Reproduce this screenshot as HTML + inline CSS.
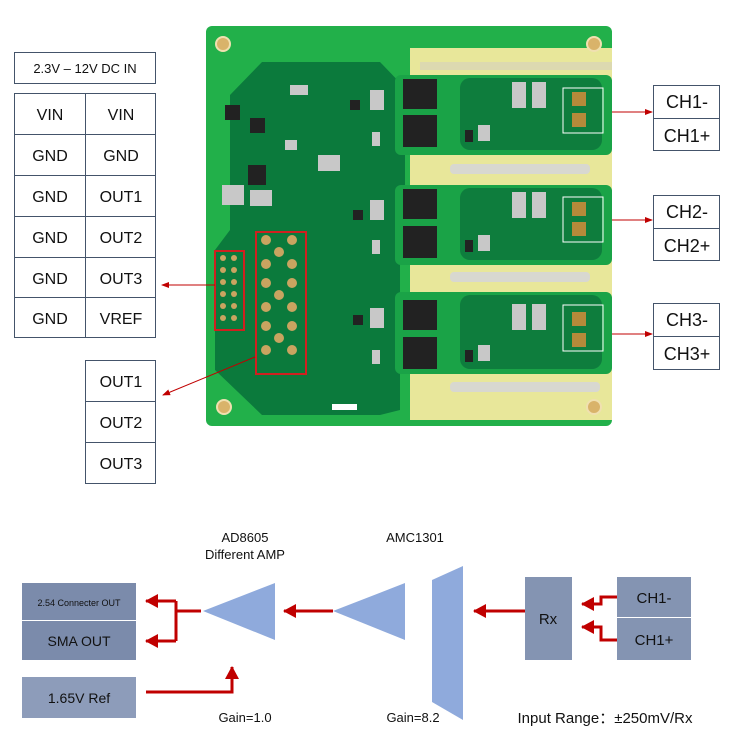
<!DOCTYPE html>
<html><head><meta charset="utf-8"><style>
body{margin:0;background:#fff;width:732px;height:738px;overflow:hidden;font-family:"Liberation Sans",sans-serif}
</style></head><body>
<svg width="732" height="738" viewBox="0 0 732 738" xmlns="http://www.w3.org/2000/svg" font-family="Liberation Sans, sans-serif">
<defs>
<marker id="a" markerWidth="8" markerHeight="8" refX="7" refY="4" orient="auto" markerUnits="userSpaceOnUse"><path d="M0,1 L8,4 L0,7 z" fill="#c00000"/></marker>
<marker id="b" markerWidth="14" markerHeight="14" refX="12" refY="7" orient="auto" markerUnits="userSpaceOnUse"><path d="M0,0 L13,7 L0,14 z" fill="#c00000"/></marker>
</defs>
<!-- PCB -->
<rect x="206" y="26" width="406" height="400" rx="6" fill="#22b04a"/>
<polygon points="262,62 380,62 405,88 405,238 400,250 400,410 380,415 262,415 215,370 215,250 230,230 230,95" fill="#0b7a3c"/>
<polygon points="410,48 612,48 612,420 410,420 410,75" fill="#e8e79a"/>
<rect x="420" y="62" width="192" height="8" fill="#dcd9b0"/>
<g fill="#1aa347">
<rect x="395" y="75" width="217" height="80" rx="6"/>
<rect x="395" y="185" width="217" height="80" rx="6"/>
<rect x="395" y="292" width="217" height="82" rx="6"/>
</g>
<g fill="#0e7d3d">
<rect x="460" y="78" width="142" height="72" rx="10"/>
<rect x="460" y="188" width="142" height="72" rx="10"/>
<rect x="460" y="295" width="142" height="74" rx="10"/>
</g>
<g fill="#d8d8d0"><rect x="450" y="164" width="140" height="10" rx="4"/><rect x="450" y="272" width="140" height="10" rx="4"/><rect x="450" y="382" width="150" height="10" rx="4"/></g>
<g fill="#222">
<rect x="403" y="79" width="34" height="30"/><rect x="403" y="115" width="34" height="32"/>
<rect x="403" y="189" width="34" height="30"/><rect x="403" y="226" width="34" height="32"/>
<rect x="403" y="300" width="34" height="30"/><rect x="403" y="337" width="34" height="32"/>
<rect x="225" y="105" width="15" height="15"/><rect x="248" y="165" width="18" height="20"/><rect x="250" y="118" width="15" height="15"/>
<rect x="350" y="100" width="10" height="10"/><rect x="353" y="210" width="10" height="10"/><rect x="353" y="315" width="10" height="10"/>
<rect x="465" y="130" width="8" height="12"/><rect x="465" y="240" width="8" height="12"/><rect x="465" y="350" width="8" height="12"/>
</g>
<g fill="#c8c8c8"><rect x="512" y="82" width="14" height="26"/><rect x="532" y="82" width="14" height="26"/><rect x="512" y="192" width="14" height="26"/><rect x="532" y="192" width="14" height="26"/><rect x="512" y="304" width="14" height="26"/><rect x="532" y="304" width="14" height="26"/>
<rect x="222" y="185" width="22" height="20"/><rect x="250" y="190" width="22" height="16"/><rect x="318" y="155" width="22" height="16"/>
<rect x="370" y="90" width="14" height="20"/><rect x="370" y="200" width="14" height="20"/><rect x="370" y="308" width="14" height="20"/>
<rect x="372" y="132" width="8" height="14"/><rect x="372" y="240" width="8" height="14"/><rect x="372" y="350" width="8" height="14"/>
<rect x="478" y="125" width="12" height="16"/><rect x="478" y="235" width="12" height="16"/><rect x="478" y="345" width="12" height="16"/>
<rect x="290" y="85" width="18" height="10"/><rect x="285" y="140" width="12" height="10"/></g>
<g fill="none" stroke="#fff" stroke-width="1"><rect x="563" y="88" width="40" height="45"/><rect x="563" y="197" width="40" height="45"/><rect x="563" y="305" width="40" height="46"/></g>
<g fill="#b58a3a"><rect x="572" y="92" width="14" height="14"/><rect x="572" y="113" width="14" height="14"/><rect x="572" y="202" width="14" height="14"/><rect x="572" y="222" width="14" height="14"/><rect x="572" y="312" width="14" height="14"/><rect x="572" y="333" width="14" height="14"/></g>
<rect x="215" y="251" width="29" height="79" fill="none" stroke="#d02020" stroke-width="2"/>
<rect x="256" y="232" width="50" height="142" fill="none" stroke="#d02020" stroke-width="2"/>
<g fill="#c9a460">
<circle cx="223" cy="258" r="3"/><circle cx="234" cy="258" r="3"/><circle cx="223" cy="270" r="3"/><circle cx="234" cy="270" r="3"/><circle cx="223" cy="282" r="3"/><circle cx="234" cy="282" r="3"/><circle cx="223" cy="294" r="3"/><circle cx="234" cy="294" r="3"/><circle cx="223" cy="306" r="3"/><circle cx="234" cy="306" r="3"/><circle cx="223" cy="318" r="3"/><circle cx="234" cy="318" r="3"/>
<circle cx="266" cy="240" r="5"/><circle cx="292" cy="240" r="5"/><circle cx="279" cy="252" r="5"/><circle cx="266" cy="264" r="5"/><circle cx="292" cy="264" r="5"/>
<circle cx="266" cy="283" r="5"/><circle cx="292" cy="283" r="5"/><circle cx="279" cy="295" r="5"/><circle cx="266" cy="307" r="5"/><circle cx="292" cy="307" r="5"/>
<circle cx="266" cy="326" r="5"/><circle cx="292" cy="326" r="5"/><circle cx="279" cy="338" r="5"/><circle cx="266" cy="350" r="5"/><circle cx="292" cy="350" r="5"/>
</g>
<g fill="#d9b36a" stroke="#f0e0b0" stroke-width="2"><circle cx="223" cy="44" r="7"/><circle cx="594" cy="44" r="7"/><circle cx="224" cy="407" r="7"/><circle cx="594" cy="407" r="7"/></g>
<rect x="332" y="404" width="25" height="6" fill="#fff"/>
<!-- pin table -->
<g fill="none" stroke="#44546a" stroke-width="1">
<rect x="14.5" y="52.5" width="141" height="31"/>
<rect x="14.5" y="93.5" width="141" height="244"/>
<line x1="85.5" y1="93" x2="85.5" y2="338"/>
<line x1="14" y1="134.5" x2="156" y2="134.5"/><line x1="14" y1="175.5" x2="156" y2="175.5"/><line x1="14" y1="216.5" x2="156" y2="216.5"/><line x1="14" y1="257.5" x2="156" y2="257.5"/><line x1="14" y1="297.5" x2="156" y2="297.5"/>
<rect x="85.5" y="360.5" width="70" height="123"/>
<line x1="85" y1="401.5" x2="156" y2="401.5"/><line x1="85" y1="442.5" x2="156" y2="442.5"/>
<rect x="653.5" y="85.5" width="66" height="65"/><line x1="653" y1="118.5" x2="720" y2="118.5"/>
<rect x="653.5" y="195.5" width="66" height="65"/><line x1="653" y1="228.5" x2="720" y2="228.5"/>
<rect x="653.5" y="303.5" width="66" height="66"/><line x1="653" y1="336.5" x2="720" y2="336.5"/>
</g>
<g font-size="16" fill="#111" text-anchor="middle">
<text x="85" y="73" font-size="13">2.3V – 12V DC IN</text>
<text x="50" y="120">VIN</text><text x="121" y="120">VIN</text>
<text x="50" y="161">GND</text><text x="121" y="161">GND</text>
<text x="50" y="202">GND</text><text x="121" y="202">OUT1</text>
<text x="50" y="243">GND</text><text x="121" y="243">OUT2</text>
<text x="50" y="284">GND</text><text x="121" y="284">OUT3</text>
<text x="50" y="324">GND</text><text x="121" y="324">VREF</text>
<text x="121" y="387">OUT1</text><text x="121" y="428">OUT2</text><text x="121" y="469">OUT3</text>
<text x="687" y="108" font-size="18">CH1-</text><text x="687" y="142" font-size="18">CH1+</text>
<text x="687" y="218" font-size="18">CH2-</text><text x="687" y="252" font-size="18">CH2+</text>
<text x="687" y="326" font-size="18">CH3-</text><text x="687" y="360" font-size="18">CH3+</text>
</g>
<g stroke="#c00000" stroke-width="1" marker-end="url(#a)">
<line x1="612" y1="112" x2="652" y2="112"/><line x1="612" y1="220" x2="652" y2="220"/><line x1="612" y1="334" x2="652" y2="334"/>
<line x1="215" y1="285" x2="162" y2="285"/><line x1="255" y1="357" x2="163" y2="395"/>
</g>
<!-- block diagram -->
<rect x="22" y="583" width="114" height="37" fill="#7b8bab"/>
<rect x="22" y="621" width="114" height="39" fill="#7b8bab"/>
<rect x="22" y="677" width="114" height="41" fill="#8d9cba"/>
<rect x="525" y="577" width="47" height="83" fill="#8494b2"/>
<rect x="617" y="577" width="74" height="40" fill="#8494b2"/>
<rect x="617" y="618" width="74" height="42" fill="#8494b2"/>
<polygon points="203,611 275,583 275,640" fill="#8faadc"/>
<polygon points="333,611 405,583 405,640" fill="#8faadc"/>
<polygon points="432,580 463,566 463,720 432,702" fill="#8faadc"/>
<g stroke="#c00000" stroke-width="3" fill="none">
<path d="M201,611 H176 M176,601 V641" />
<path d="M176,601 H146" marker-end="url(#b)"/>
<path d="M176,641 H146" marker-end="url(#b)"/>
<path d="M333,611 H284" marker-end="url(#b)"/>
<path d="M525,611 H474" marker-end="url(#b)"/>
<path d="M146,692 H232 V667" marker-end="url(#b)"/>
<path d="M617,597 H601 V604 H582" marker-end="url(#b)"/>
<path d="M617,640 H601 V627 H582" marker-end="url(#b)"/>
</g>
<g fill="#111" text-anchor="middle" font-size="13">
<text x="245" y="542">AD8605</text><text x="245" y="559">Different AMP</text>
<text x="415" y="542">AMC1301</text>
<text x="245" y="722">Gain=1.0</text><text x="413" y="722">Gain=8.2</text>
<text x="605" y="723" font-size="15">Input Range：±250mV/Rx</text>
<text x="79" y="606" font-size="9">2.54 Connecter OUT</text>
<text x="79" y="646" font-size="14">SMA OUT</text>
<text x="79" y="703" font-size="14">1.65V Ref</text>
<text x="548" y="624" font-size="15">Rx</text>
<text x="654" y="603" font-size="15">CH1-</text>
<text x="654" y="645" font-size="15">CH1+</text>
</g>
</svg>
</body></html>
